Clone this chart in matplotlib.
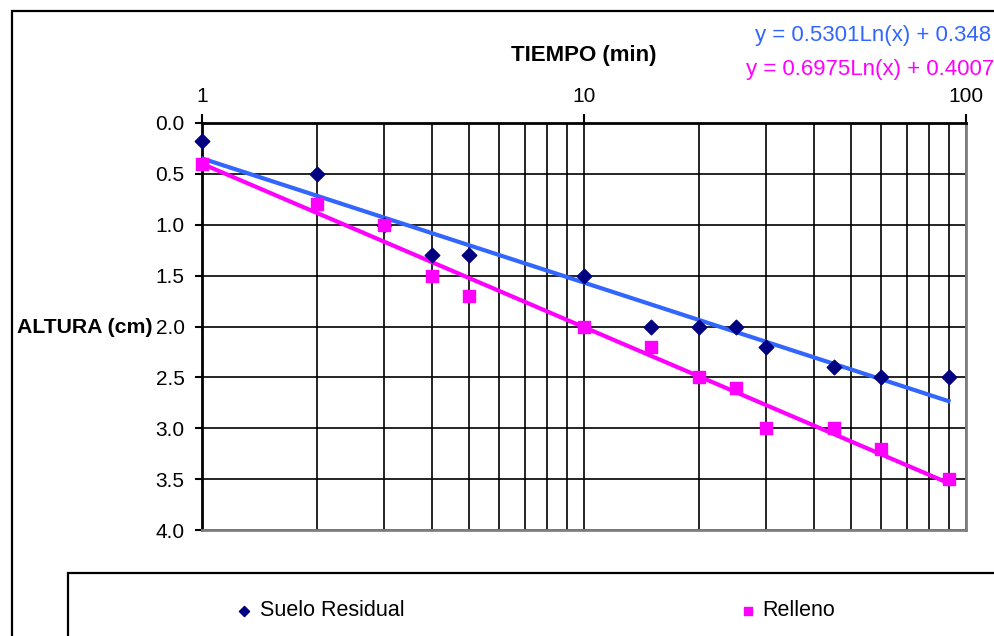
import matplotlib
matplotlib.use("Agg")
import matplotlib.pyplot as plt
from matplotlib.patches import Rectangle
from matplotlib.ticker import LogLocator, FixedLocator, FormatStrFormatter, NullFormatter
import numpy as np

plt.rcParams['font.family'] = ['Liberation Sans', 'DejaVu Sans']

# tiempo (min) de cada lectura
tiempo = [1, 2, 3, 4, 5, 10, 15, 20, 25, 30, 45, 60, 90]
suelo_residual = [0.18, 0.5, 1.0, 1.3, 1.3, 1.5, 2.0, 2.0, 2.0, 2.2, 2.4, 2.5, 2.5]
relleno = [0.4, 0.8, 1.0, 1.5, 1.7, 2.0, 2.2, 2.5, 2.6, 3.0, 3.0, 3.2, 3.5]

# coeficientes de las lineas de tendencia (y = a Ln(x) + b), como en el grafico
tend_suelo = (0.5301, 0.348)
tend_relleno = (0.6975, 0.4007)
eq_suelo = "y = 0.5301Ln(x) + 0.348"
eq_relleno = "y = 0.6975Ln(x) + 0.4007"

c_suelo = "#000080"
c_tend_suelo = "#3366FF"
c_relleno = "#FF00FF"

W, H = 995, 636
fig = plt.figure(figsize=(W / 100, H / 100), dpi=100)

# marco exterior del grafico
fig.patches.append(Rectangle((12 / W, -0.1), 1.2, (H - 11) / H + 0.1,
                             transform=fig.transFigure, fill=False,
                             edgecolor="black", linewidth=1.6))

ax = fig.add_axes([202 / W, (H - 530) / H, 764 / W, 407 / H])

ax.set_xscale("log")
ax.set_xlim(1, 100)
ax.set_ylim(4.0, 0.0)

# lineas de tendencia
xt = np.geomspace(tiempo[0], tiempo[-1], 200)
ax.plot(xt, tend_suelo[0] * np.log(xt) + tend_suelo[1], color=c_tend_suelo, lw=3, zorder=3)
ax.plot(xt, tend_relleno[0] * np.log(xt) + tend_relleno[1], color=c_relleno, lw=3, zorder=3)

ax.scatter(tiempo, suelo_residual, marker="D", s=55, color=c_suelo, zorder=4,
           label="Suelo Residual", clip_on=False)
ax.scatter(tiempo, relleno, marker="s", s=75, color=c_relleno, zorder=4,
           label="Relleno", clip_on=False)

# ejes
ax.xaxis.set_ticks_position("top")
ax.xaxis.set_label_position("top")
ax.xaxis.set_major_locator(FixedLocator([1, 10, 100]))
ax.set_xticklabels(["1", "10", "100"])
ax.xaxis.set_minor_locator(LogLocator(base=10, subs=np.arange(2, 10), numticks=20))
ax.xaxis.set_minor_formatter(NullFormatter())
ax.tick_params(axis="x", which="major", direction="out", length=6.5, width=1.5,
               pad=5.5, labelsize=15)
ax.tick_params(axis="x", which="minor", length=0)

ax.set_yticks(np.arange(0, 4.01, 0.5))
ax.yaxis.set_major_formatter(FormatStrFormatter("%.1f"))
ax.tick_params(axis="y", direction="out", length=5, width=1.5, pad=7.5, labelsize=15)

ax.grid(True, which="both", color="black", linewidth=1.2)
ax.set_axisbelow(True)

for s in ("top", "left"):
    ax.spines[s].set_color("black")
    ax.spines[s].set_linewidth(2)
for s in ("bottom", "right"):
    ax.spines[s].set_color("#808080")
    ax.spines[s].set_linewidth(2)

# titulos
fig.text(584 / W, 1 - 56 / H, "TIEMPO (min)", ha="center", va="center",
         fontsize=16, fontweight="bold")
fig.text(17 / W, 1 - 327 / H, "ALTURA (cm)", ha="left", va="center",
         fontsize=15.3, fontweight="bold")

# ecuaciones de las tendencias
fig.text(991 / W, 1 - 35 / H, eq_suelo, ha="right", va="center",
         fontsize=16, color=c_tend_suelo)
fig.text(994 / W, 1 - 69 / H, eq_relleno, ha="right", va="center",
         fontsize=16, color=c_relleno)

# caja de la leyenda
fig.patches.append(Rectangle((68 / W, -0.1), 1.2, (H - 573) / H + 0.1,
                             transform=fig.transFigure, fill=False,
                             edgecolor="black", linewidth=1.6))
fig.legend(loc="center left", bbox_to_anchor=(238 / W, 1 - 611 / H), ncol=2,
           frameon=False, fontsize=15.5, handlelength=0.6, handletextpad=0.4,
           columnspacing=15.65, markerscale=0.7, borderpad=0, borderaxespad=0)

fig.savefig("out.png", dpi=100)
